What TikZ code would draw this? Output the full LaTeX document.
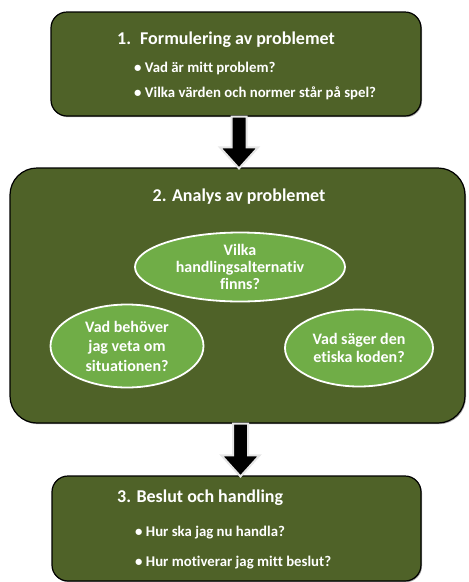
\documentclass[tikz,border=0pt]{standalone}
\usepackage{fontspec}
\setmainfont{Carlito}[Ligatures=NoCommon]
\usetikzlibrary{positioning,shapes.geometric,calc,shadows}
\definecolor{olivedark}{HTML}{4F6228}
\definecolor{leafmid}{HTML}{70AD47}
\definecolor{arrowrim}{HTML}{E6E6E6}

\tikzset{
  stagebox/.style={rectangle, fill=olivedark, draw=black, line width=1.2pt, inner sep=0pt,
    drop shadow={shadow xshift=1pt, shadow yshift=-1.2pt, opacity=0.7}},
  question/.style={ellipse, fill=leafmid, draw=white, line width=1.8pt, inner xsep=0pt, inner ysep=-1pt,
    align=center, text=white, font=\bfseries\fontsize{16}{17}\selectfont},
  headtext/.style={text=white, font=\bfseries\fontsize{18}{21}\selectfont, inner sep=0pt},
  bullettext/.style={text=white, font=\bfseries\fontsize{14.8}{17}\selectfont, inner sep=0pt, anchor=west},
  blockarrow/.style={fill=black, draw=arrowrim, line width=2pt, line join=miter}
}

\newcommand{\flowarrow}[2]{%
  \draw[blockarrow] let \p1=(#1.south), \p2=(#2.north) in
    (\x1-4.5,\y1) -- (\x1-4.5,\y2+20) -- (\x1-16,\y2+20) -- (\x1+3,\y2-1)
    -- (\x1+22,\y2+20) -- (\x1+10.5,\y2+20) -- (\x1+10.5,\y1) -- cycle;}

\begin{document}
\begin{tikzpicture}[x=1pt,y=-1pt]
\useasboundingbox (0,0) rectangle (469,582);
% the three stages
\node[stagebox, rounded corners=16pt, minimum width=370pt, minimum height=104pt] (formulate) at (236,64) {};
\node[stagebox, rounded corners=27pt, minimum width=455pt, minimum height=255pt] (analyse) at (237.5,295.5) {};
\node[stagebox, rounded corners=16pt, minimum width=369pt, minimum height=105pt] (decide) at (236.5,528.5) {};
% stage 1
\node[headtext, anchor=west] (formtitle) at (117,40) {1.\hspace{0.5em}Formulering av problemet};
\node[bullettext] (formq1) at (134,68) {• Vad är mitt problem?};
\node[bullettext] (formq2) at (134,93) {• Vilka värden och normer står på spel?};
% stage 2
\node[headtext] (antitle) at (239,197) {2. Analys av problemet};
\node[question, minimum width=210pt, minimum height=69pt] (options) at (240,267) {Vilka\\handlingsalternativ\\finns?};
\node[question, minimum width=153pt, minimum height=83pt, font=\bfseries\fontsize{16}{19.5}\selectfont] (facts) at (127,346) {Vad behöver\\jag veta om\\situationen?};
\node[question, minimum width=148pt, minimum height=77pt, font=\bfseries\fontsize{16}{18}\selectfont] (ethics) at (359,348) {Vad säger den\\etiska koden?};
% stage 3
\node[headtext, anchor=west] (dectitle) at (117,498) {3. Beslut och handling};
\node[bullettext] (decq1) at (135,533) {• Hur ska jag nu handla?};
\node[bullettext] (decq2) at (135,563) {• Hur motiverar jag mitt beslut?};
% arrows between stages
\flowarrow{formulate}{analyse}
\flowarrow{analyse}{decide}
\end{tikzpicture}
\end{document}
